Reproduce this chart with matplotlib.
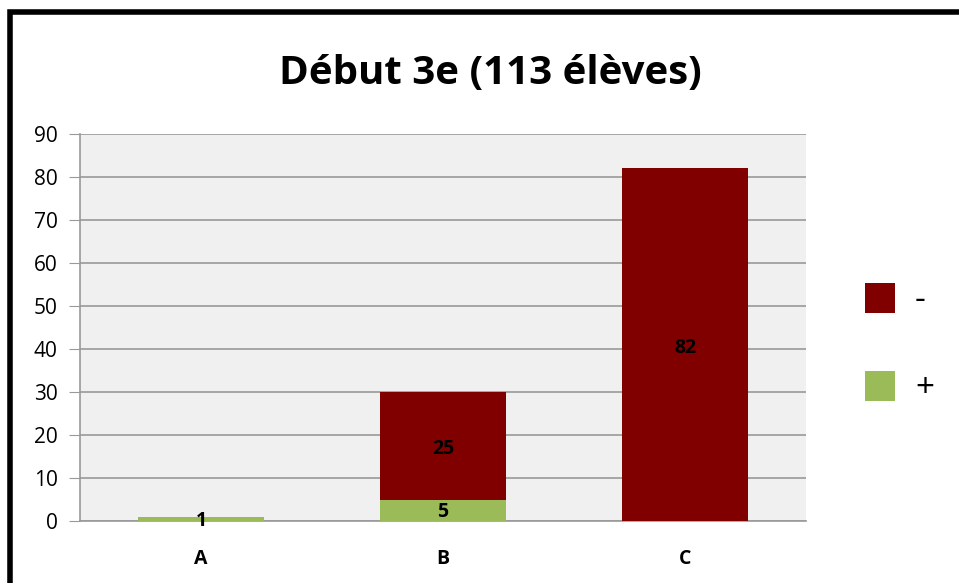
import matplotlib.pyplot as plt
from matplotlib.patches import Rectangle
import numpy as np

# Données du graphique
categories = ['A', 'B', 'C']
plus_values = [1, 5, 0]
minus_values = [0, 25, 82]

red = '#800000'
green = '#9BBB59'

plt.rcParams['font.family'] = ['Open Sans', 'DejaVu Sans']

fig = plt.figure(figsize=(9.59, 5.83), dpi=100)
ax = fig.add_axes([80 / 959, 1 - 521 / 583, 726 / 959, 387 / 583])

x = np.arange(len(categories))
width = 0.52

bars_plus = ax.bar(x, plus_values, width, color=green, label='+', zorder=3)
bars_minus = ax.bar(x, minus_values, width, bottom=plus_values, color=red, label='-', zorder=3)

# Étiquettes dans les barres
for i in range(len(categories)):
    if plus_values[i] > 0:
        ax.text(x[i], plus_values[i] / 2 - 0.4, str(plus_values[i]), ha='center', va='center',
                fontsize=14, fontweight='bold', zorder=4)
    if minus_values[i] > 0:
        ax.text(x[i], plus_values[i] + minus_values[i] / 2 - 0.8, str(minus_values[i]), ha='center',
                va='center', fontsize=14, fontweight='bold', zorder=4)

ax.set_xlim(-0.5, 2.5)
ax.set_ylim(0, 90)
ax.set_yticks(range(0, 91, 10))
ax.set_xticks(x)
ax.set_xticklabels(categories, fontweight='bold', fontsize=14)
ax.tick_params(axis='x', length=0, pad=20)
ax.tick_params(axis='y', length=8, color='#999999', labelsize=15, pad=8)
ax.set_facecolor('#f0f0f0')
ax.grid(axis='y', color='#999999', linewidth=1.2, zorder=0)
for side in ['top', 'right']:
    ax.spines[side].set_visible(False)
ax.spines['left'].set_color('#999999')
ax.spines['bottom'].set_color('#999999')
ax.spines['left'].set_linewidth(1.2)
ax.spines['bottom'].set_linewidth(1.2)

fig.text(490 / 959, 1 - 73 / 583, 'Début 3e (113 élèves)', ha='center', va='center',
         fontsize=29, fontweight='bold')

# Légende
handles = [bars_minus, bars_plus]
fig.legend(handles, ['-', '+'], loc='center left', bbox_to_anchor=(835 / 959, 1 - 344 / 583),
           frameon=False, fontsize=24, handlelength=0.9, handleheight=1.0,
           labelspacing=1.6, handletextpad=0.6)

# Cadre noir
fig.patches.append(Rectangle((10 / 959, -0.1), 1.2, 1 - 12 / 583 + 0.1, transform=fig.transFigure,
                             fill=False, edgecolor='black', linewidth=4))

fig.savefig('out.png', dpi=100)
